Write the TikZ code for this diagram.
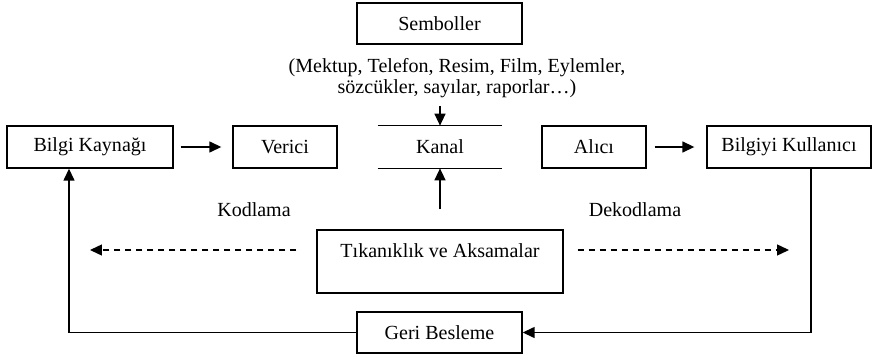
\documentclass[tikz,border=0pt]{standalone}
\usepackage{fontspec}
\setmainfont{Liberation Serif}
\usetikzlibrary{arrows.meta}

\begin{document}
\begin{tikzpicture}[x=0.02cm, y=-0.02cm,
    font=\fontsize{11.4}{12}\selectfont,
    box/.style={draw, line width=0.8pt, inner sep=0pt, minimum height=0.84cm},
    arr/.style={line width=0.8pt, -{Triangle[length=2.4mm, width=2.2mm]}},
    dasharr/.style={arr, dash pattern=on 1.2mm off 1mm}]
\useasboundingbox (0, 0) rectangle (875, 358);

% top row
\node [box, minimum width=3.3cm, minimum height=0.82cm] (semb) at (439.5, 23.5) {Semboller};
\node [align=center] (liste) at (457, 78)
    {(Mektup, Telefon, Resim, Film, Eylemler,\\sözcükler, sayılar, raporlar\dots)};

% main chain
\node [box, minimum width=3.32cm] (kaynak) at (90, 147) {Bilgi Kaynağı};
\node [box, minimum width=2.08cm] (verici) at (285, 147) {Verici};
\node [inner sep=0pt, minimum width=2.48cm, minimum height=0.84cm] (kanal) at (440, 147) {Kanal};
\node [box, minimum width=2.08cm] (alici) at (594, 147) {Alıcı};
\node [box, minimum width=3.28cm] (kullanici) at (789, 147) {Bilgiyi Kullanıcı};
\draw [line width=0.8pt] (kanal.north west) -- (kanal.north east);
\draw [line width=0.8pt] (kanal.south west) -- (kanal.south east);

% noise and feedback
\node [box, minimum width=4.92cm, text height=15.4pt, text depth=20.5pt] (tikanik) at (440, 261.5)
    {Tıkanıklık ve Aksamalar};
\node [box, minimum width=3.3cm, minimum height=0.82cm] (geri) at (439.5, 332.5) {Geri Besleme};
\node (kod) at (254, 210) {Kodlama};
\node (dekod) at (635, 210) {Dekodlama};
\coordinate (kodsol) at (90, 250);
\coordinate (dekodsag) at (789, 250);

% arrows
\draw [arr, shorten <=0.14cm, shorten >=0.22cm] (kaynak) -- (verici);
\draw [arr, shorten <=0.16cm, shorten >=0.24cm] (alici) -- (kullanici);
\draw [arr, shorten <=0.04cm] (liste.south -| kanal) -- (kanal.north);
\draw [arr, shorten <=0.4cm] (tikanik.north) -- (kanal.south);
\draw [dasharr, shorten <=0.4cm] (tikanik.west |- kodsol) -- (kodsol);
\draw [dasharr, shorten <=0.28cm] (tikanik.east |- dekodsag) -- (dekodsag);
\draw [arr] (geri.west) -| ([xshift=-0.42cm]kaynak.south);
\draw [arr] ([xshift=0.44cm]kullanici.south) |- (geri.east);

\end{tikzpicture}
\end{document}
